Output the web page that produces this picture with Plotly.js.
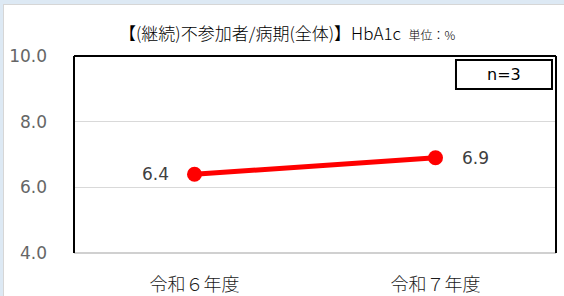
<!DOCTYPE html>
<html><head><meta charset="utf-8">
<script src="https://cdn.plot.ly/plotly-3.0.1.min.js"></script>
<style>
html,body{margin:0;padding:0;background:#dde9f4;width:564px;height:296px;overflow:hidden;}
#frame{position:absolute;left:3px;top:4px;width:561px;height:292px;background:#d6d6d6;}
#chart{position:absolute;left:4px;top:5px;width:560px;height:291px;background:#fff;}
</style></head><body>
<div id="frame"></div>
<div id="chart"></div>
<script>
const categories = ["令和６年度", "令和７年度"];
const values = [6.4, 6.9];
const labels = ["6.4", "6.9"];
const yTicks = [4, 6, 8, 10];
const yTickLabels = ["4.0", "6.0", "8.0", "10.0"];
const titleText = "【(継続)不参加者/病期(全体)】HbA1c";
const unitText = "単位：%";
const nText = "n=3";

const numFont = "DejaVu Sans, Verdana, sans-serif";
const jpFont = "Noto Sans CJK JP, sans-serif";

const trace = {
  x: [0, 1], y: values, type: 'scatter', mode: 'lines+markers',
  line: {color: '#ff0000', width: 5},
  marker: {color: '#ff0000', size: 15},
  hoverinfo: 'skip', cliponaxis: false
};

const labelAnns = values.map((v, i) => ({
  x: i, y: v, xref: 'x', yref: 'y', text: labels[i], showarrow: false,
  xanchor: i === 0 ? 'right' : 'left', yanchor: 'middle',
  xshift: i === 0 ? -24 : 24, yshift: 0,
  font: {family: numFont, size: 17, color: '#404040'}
}));

const layout = {
  width: 560, height: 291,
  margin: {l: 70, r: 8, t: 51, b: 43},
  paper_bgcolor: '#ffffff', plot_bgcolor: '#ffffff',
  showlegend: false,
  xaxis: {
    range: [-0.5, 1.5], tickvals: [0, 1], ticktext: categories,
    showgrid: false, zeroline: false, showline: false, ticks: '',
    ticklabelstandoff: 19,
    tickfont: {family: jpFont, size: 18, color: '#1a1a1a', weight: 300},
    fixedrange: true
  },
  yaxis: {
    range: [4, 10], tickvals: yTicks, ticktext: yTickLabels,
    showgrid: true, gridcolor: '#d9d9d9', gridwidth: 1.5, zeroline: false, showline: false,
    ticks: '', ticklabelstandoff: 26,
    tickfont: {family: numFont, size: 17, color: '#666666'},
    fixedrange: true
  },
  shapes: [
    {type: 'line', xref: 'paper', yref: 'paper', x0: 0, x1: 1, y0: 0, y1: 0, line: {color: '#d0d0d0', width: 2}},
    {type: 'line', xref: 'paper', yref: 'paper', x0: 0, x1: 0, y0: 0, y1: 1, line: {color: '#000000', width: 2}},
    {type: 'line', xref: 'paper', yref: 'paper', x0: 0, x1: 1, y0: 1, y1: 1, line: {color: '#000000', width: 2}},
    {type: 'line', xref: 'paper', yref: 'paper', x0: 1, x1: 1, y0: 0, y1: 1, line: {color: '#000000', width: 2}},
    {type: 'rect', xref: 'paper', yref: 'paper', x0: 0.7925, x1: 0.9917, y0: 0.8325, y1: 0.9797, line: {color: '#000000', width: 2}, fillcolor: '#ffffff'}
  ],
  annotations: labelAnns.concat([
    {xref: 'paper', yref: 'paper', x: 0.892, y: 0.906, xanchor: 'center', yanchor: 'middle', showarrow: false,
     text: nText, font: {family: numFont, size: 16, color: '#000000'}},
    {xref: 'paper', yref: 'paper', x: (287 - 74) / 482, y: (253 - 32) / 197, xanchor: 'center', yanchor: 'middle', showarrow: false,
     text: titleText + '  <span style="font-size:12px">' + unitText + '</span>',
     font: {family: jpFont, size: 17, color: '#000000', weight: 300}}
  ])
};

Plotly.newPlot('chart', [trace], layout, {displayModeBar: false, staticPlot: true});
</script>
</body></html>
